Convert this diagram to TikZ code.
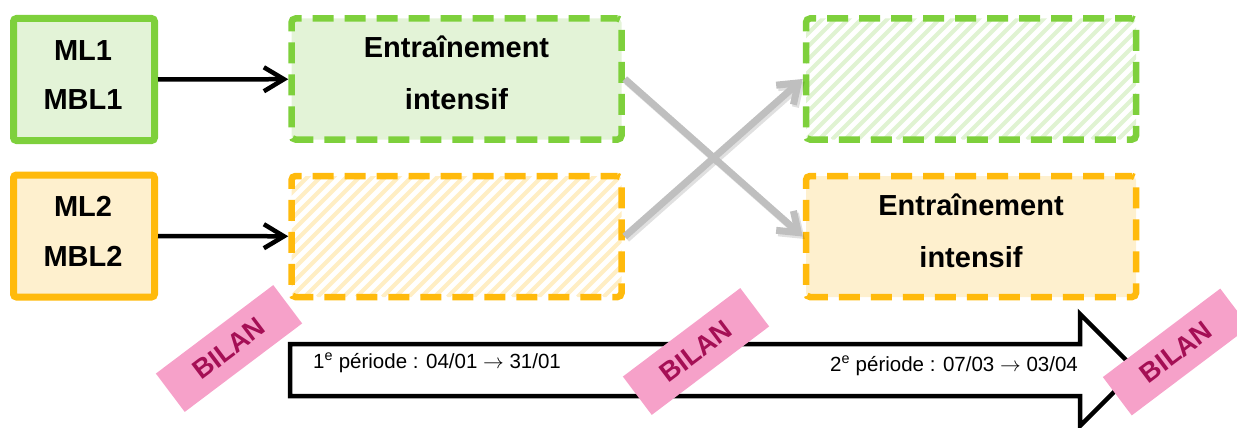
\documentclass[tikz,border=0pt]{standalone}
\usepackage{fontspec}
\setmainfont{Liberation Sans}
\usetikzlibrary{arrows.meta}

\definecolor{leaf}{RGB}{126,208,60}
\definecolor{leafpale}{RGB}{227,243,215}
\definecolor{leafhatch}{RGB}{224,243,210}
\definecolor{amber}{RGB}{255,186,12}
\definecolor{amberpale}{RGB}{254,240,206}
\definecolor{amberhatch}{RGB}{255,238,196}
\definecolor{crossgray}{RGB}{191,191,191}
\definecolor{tagpink}{RGB}{246,161,201}
\definecolor{tagtext}{RGB}{165,15,85}

\tikzset{
  solidbox/.style={draw, line width=7pt, rounded corners=3pt, inner sep=0pt,
    minimum width=141pt, minimum height=122pt},
  dashbox/.style={draw, line width=6.5pt, rounded corners=4pt, inner sep=0pt,
    dash pattern=on 21pt off 11pt, dash phase=4pt,
    minimum width=330pt, minimum height=121pt},
  hatched/.style={path picture={
    \foreach \k in {-13,...,27}
      \draw[solid, line width=4pt, #1]
        ([xshift=\k*13pt]path picture bounding box.south west) -- ++(160pt,160pt);}},
  boxtext/.style={font=\fontsize{29}{34}\selectfont\bfseries, anchor=base, inner sep=0pt},
  feed/.style={line width=4.5pt, -{Straight Barb[length=20pt,width=24pt,line width=4.5pt]}},
  swap/.style={line width=7pt, draw=crossgray,
    -{Straight Barb[length=18pt,width=26pt,line width=7pt]}},
  swapshade/.style={line width=7pt, draw=black, opacity=0.12,
    -{Straight Barb[length=18pt,width=26pt,line width=7pt]}},
  period/.style={font=\fontsize{20.5}{24}\selectfont, inner sep=0pt},
  tag/.style={fill=tagpink, text=tagtext, font=\fontsize{27}{32}\selectfont\bfseries,
    minimum width=147pt, minimum height=48pt, inner sep=0pt, rotate=37}
}

\begin{document}
\begin{tikzpicture}[x=1pt, y=-1pt]
\useasboundingbox (0,0) rectangle (1237,428);

% group boxes on the left
\node[solidbox, fill=leafpale, draw=leaf] (ml1) at (84,79.5) {};
\node[solidbox, fill=amberpale, draw=amber] (ml2) at (84,236) {};
\node[boxtext] (ml1a) at (83,60) {ML1};
\node[boxtext] (ml1b) at (83,110) {MBL1};
\node[boxtext] (ml2a) at (83,216.5) {ML2};
\node[boxtext] (ml2b) at (83,266.5) {MBL2};

% first period
\node[dashbox, fill=leafpale, draw=leaf] (tl) at (456.5,79) {};
\node[dashbox, fill=white, draw=amber, hatched=amberhatch] (bl) at (456.5,236.5) {};
\node[boxtext] (tla) at (456.5,57.5) {Entraînement};
\node[boxtext] (tlb) at (456.5,109.5) {intensif};

% second period
\node[dashbox, fill=white, draw=leaf, hatched=leafhatch] (tr) at (971,79) {};
\node[dashbox, fill=amberpale, draw=amber] (br) at (971,236.5) {};
\node[boxtext] (bra) at (971,215) {Entraînement};
\node[boxtext] (brb) at (971,267) {intensif};

% groups into the first period
\draw[feed] (ml1) -- (tl);
\draw[feed] (ml2) -- (bl);

% groups swap for the second period
\draw[swapshade, transform canvas={shift={(2pt,-2.5pt)}}] (tl.east) -- (br.west);
\draw[swapshade, transform canvas={shift={(2pt,-2.5pt)}}] (bl.east) -- (tr.west);
\draw[swap] (tl.east) -- (br.west);
\draw[swap] (bl.east) -- (tr.west);

% timeline arrow
\draw[line width=4.5pt, fill=white, miter limit=10]
  (290,344) -- (1080,344) -- (1080,314) -- (1136,370) -- (1080,426)
  -- (1080,396) -- (290,396) -- cycle;
\node[period, anchor=west] (p1) at (313,363) {1\textsuperscript{e} période : 04/01 $\rightarrow$ 31/01};
\node[period, anchor=east] (p2) at (1078,366) {2\textsuperscript{e} période : 07/03 $\rightarrow$ 03/04};

% review tags
\node[tag] (bilan1) at (229,348.5) {BILAN};
\node[tag] (bilan2) at (696,351.5) {BILAN};
\node[tag] (bilan3) at (1176,352) {BILAN};
\end{tikzpicture}
\end{document}
